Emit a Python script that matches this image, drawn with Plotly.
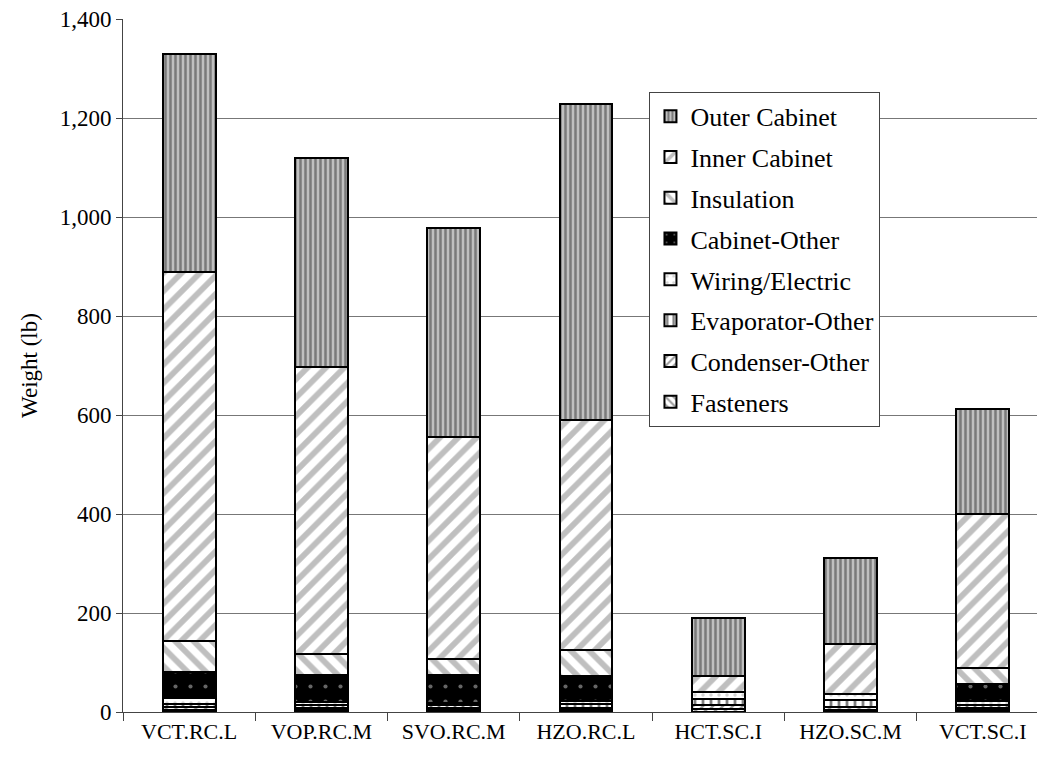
import plotly.graph_objects as go

categories = ["VCT.RC.L", "VOP.RC.M", "SVO.RC.M", "HZO.RC.L", "HCT.SC.I", "HZO.SC.M", "VCT.SC.I"]

fasteners = [5, 4, 4, 5, 7, 5, 5]
condenser_other = [5, 4, 4, 4, 7, 5, 4]
evaporator_other = [7, 7, 6, 7, 12, 14, 6]
wiring_electric = [11, 5, 5, 6, 14, 13, 8]
cabinet_other = [53, 54, 55, 51, 0, 0, 34]
insulation = [63, 43, 34, 52, 0, 0, 31]
inner_cabinet = [744, 580, 448, 465, 32, 100, 312]
outer_cabinet = [442, 422, 422, 638, 118, 175, 212]

series = [
    ("Fasteners", fasteners, dict(shape="\\", fgcolor="#333333", bgcolor="white", size=7, solidity=0.35)),
    ("Condenser-Other", condenser_other, dict(shape="/", fgcolor="#333333", bgcolor="white", size=7, solidity=0.35)),
    ("Evaporator-Other", evaporator_other, dict(shape="|", fgcolor="black", bgcolor="white", size=8, solidity=0.35)),
    ("Wiring/Electric", wiring_electric, dict(shape=".", fgcolor="#aaaaaa", bgcolor="white", size=8, solidity=0.15)),
    ("Cabinet-Other", cabinet_other, dict(shape=".", fgcolor="#cccccc", bgcolor="black", size=15, solidity=0.06)),
    ("Insulation", insulation, dict(shape="\\", fgcolor="#808080", bgcolor="white", size=13, solidity=0.45)),
    ("Inner Cabinet", inner_cabinet, dict(shape="/", fgcolor="#808080", bgcolor="white", size=13, solidity=0.45)),
    ("Outer Cabinet", outer_cabinet, dict(shape="|", fgcolor="#333333", bgcolor="#c0c0c0", size=5, solidity=0.5)),
]

fig = go.Figure()
n = len(series)
for i, (name, vals, pat) in enumerate(series):
    fig.add_trace(go.Bar(
        x=categories, y=vals, name=name, legendgroup=name, legendrank=n - i,
        marker=dict(color="white", line=dict(color="black", width=2), pattern=pat),
    ))

FONT = "Times New Roman"
fig.update_layout(
    width=1037, height=763,
    barmode="stack", bargap=0.6,
    paper_bgcolor="white", plot_bgcolor="white",
    margin=dict(l=123, r=0, t=19, b=51),
    font=dict(family=FONT, size=23, color="black"),
    legend=dict(
        x=0.576, y=0.895, xanchor="left", yanchor="top",
        bgcolor="white", bordercolor="#444444", borderwidth=1,
        traceorder="grouped", tracegroupgap=4,
        font=dict(family=FONT, size=26, color="black"),
    ),
    showlegend=True,
)
fig.update_xaxes(
    type="category", range=[-0.5, 6.41], automargin=False,
    showline=True, linecolor="#444444", linewidth=1,
    ticks="outside", tickson="boundaries", ticklen=8, tickcolor="#444444",
    showgrid=False, tickfont=dict(family=FONT, size=22),
)
fig.update_yaxes(
    range=[0, 1400], dtick=200, tickformat=",", automargin=False,
    showline=True, linecolor="#444444", linewidth=1,
    ticks="outside", ticklen=6, tickcolor="#444444",
    showgrid=True, gridcolor="#777777", gridwidth=1,
    zeroline=False,
    tickfont=dict(family=FONT, size=23),
    title=dict(text="Weight (lb)", font=dict(family=FONT, size=23), standoff=15),
)

# remove the browser's default 8px body margin so the figure sits at the page origin
fig.write_html(
    "out.html",
    config={"displayModeBar": False},
    post_script="document.body.style.margin='0';document.body.style.overflow='hidden';",
)
